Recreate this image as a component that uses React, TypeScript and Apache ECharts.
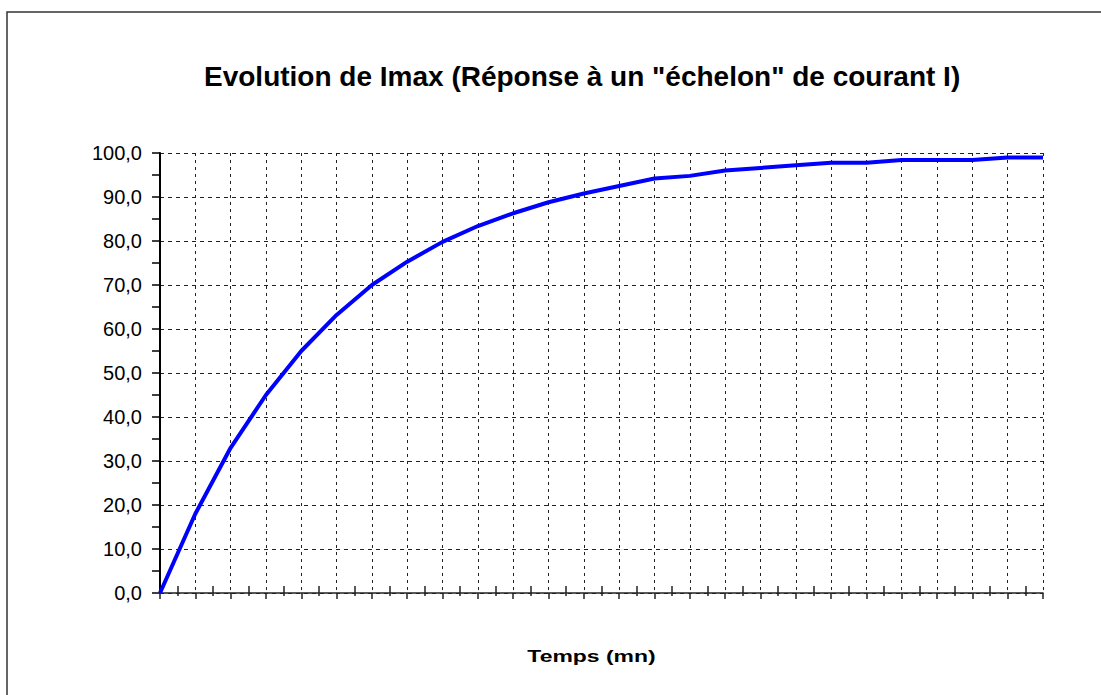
import React, { useEffect, useRef } from "react";
import * as echarts from "echarts";

const titleText = 'Evolution de Imax (Réponse à un "échelon" de courant I)';
const xAxisTitle = "Temps (mn)";
const times = [0, 1, 2, 3, 4, 5, 6, 7, 8, 9, 10, 11, 12, 13, 14, 15, 16, 17, 18, 19, 20, 21, 22, 23, 24, 25];
const imax = [0, 18, 33, 45, 55, 63.2, 70, 75.3, 79.8, 83.4, 86.3, 88.8, 90.8, 92.5, 94.2, 94.8, 96, 96.6, 97.2, 97.8, 97.8, 98.4, 98.4, 98.4, 99, 99];
const yMin = 0;
const yMax = 100;
const yStep = 10;
const xMin = 0;
const xMax = 25;
const xStep = 1;

export default function App() {
  const ref = useRef<HTMLDivElement>(null);
  useEffect(() => {
    if (!ref.current) return;
    const chart = echarts.init(ref.current, null, { renderer: "svg" });
    const font = "'Liberation Sans', Arial, Helvetica, sans-serif";
    const data = times.map((t, i) => [t, imax[i]]);
    chart.setOption({
      animation: false,
      backgroundColor: "#ffffff",
      title: {
        text: titleText,
        left: 199,
        top: 57,
        textStyle: { fontFamily: font, fontSize: 28, fontWeight: "bold", color: "#000" },
      },
      grid: { left: 160, right: 58, top: 153, bottom: 102, containLabel: false },
      xAxis: [
        {
          type: "value",
          min: xMin,
          max: xMax,
          interval: xStep,
          axisLine: { show: true, lineStyle: { color: "#222", width: 1.5 } },
          axisTick: { show: true, inside: false, length: 6, lineStyle: { color: "#222", width: 1.5 } },
          minorTick: { show: true, splitNumber: 2, length: 3, lineStyle: { color: "#222", width: 1.5 } },
          axisLabel: { show: false },
          splitLine: { show: true, lineStyle: { color: "#222", width: 1, type: [3, 4] } },
        },
        {
          type: "value",
          min: xMin,
          max: xMax,
          interval: xStep,
          position: "bottom",
          axisLine: { show: false },
          axisTick: { show: false, inside: true },
          minorTick: { show: true, splitNumber: 2, length: 7, lineStyle: { color: "#222", width: 1.5 } },
          axisLabel: { show: false },
          splitLine: { show: false },
        },
      ],
      yAxis: {
        type: "value",
        min: yMin,
        max: yMax,
        interval: yStep,
        axisLine: { show: true, lineStyle: { color: "#000", width: 2 } },
        axisTick: { show: true, length: 8, lineStyle: { color: "#000", width: 1.5 } },
        minorTick: { show: true, splitNumber: 2, length: 8, lineStyle: { color: "#000", width: 1.5 } },
        axisLabel: {
          show: true,
          margin: 18,
          fontFamily: font,
          fontSize: 20,
          color: "#000",
          formatter: (v: number) => v.toFixed(1).replace(".", ","),
        },
        splitLine: { show: true, lineStyle: { color: "#222", width: 1, type: [4, 4] } },
      },
      series: [
        {
          type: "line",
          xAxisIndex: 0,
          data,
          showSymbol: false,
          symbol: "none",
          lineStyle: { color: "#0000ff", width: 4 },
          z: 5,
        },
      ],
      graphic: [
        {
          type: "polyline",
          shape: { points: [[7, 700], [7, 12], [1110, 12]] },
          style: { fill: "none", stroke: "#333", lineWidth: 1.5 },
          silent: true,
        },
        {
          type: "text",
          x: 591.5,
          y: 656,
          scaleX: 1.35,
          style: {
            text: xAxisTitle,
            fontFamily: font,
            fontSize: 17,
            fontWeight: "bold",
            fill: "#000",
            textAlign: "center",
            textVerticalAlign: "middle",
          },
        },
      ],
    });
    return () => chart.dispose();
  }, []);
  return (
    <div
      ref={ref}
      style={{ position: "absolute", left: 0, top: 0, width: 1101, height: 695 }}
    />
  );
}
